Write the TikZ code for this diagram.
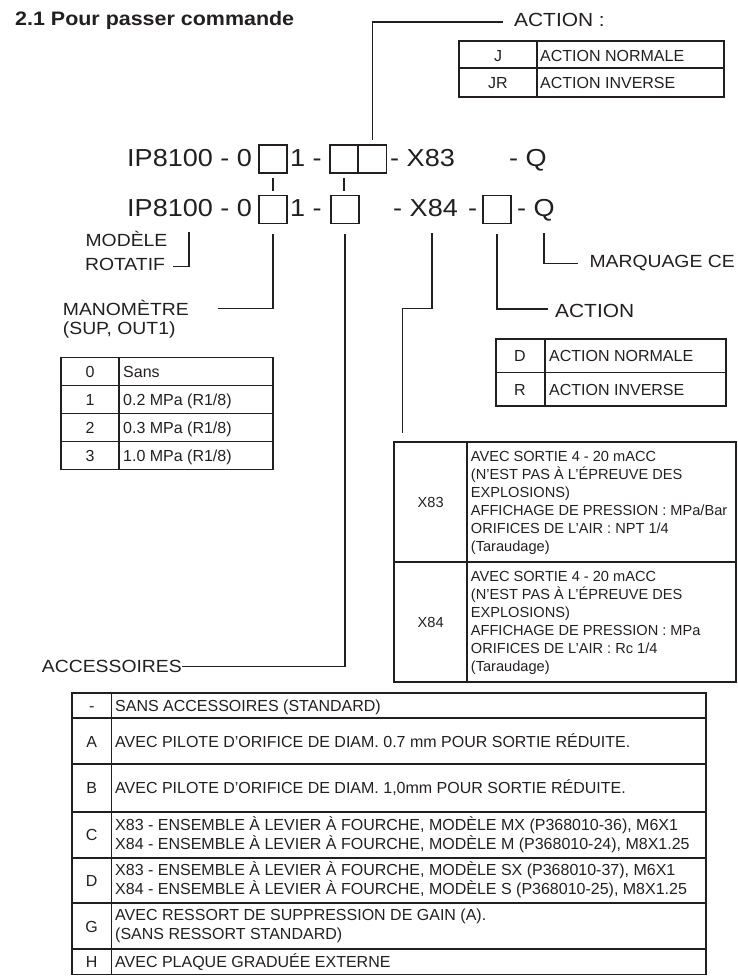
\documentclass[tikz,border=0pt]{standalone}
\usepackage{fontspec}
\setmainfont{Liberation Sans}
\newfontfamily\widefont[FakeStretch=1.1]{Liberation Sans}
\definecolor{ink}{RGB}{35,31,32}

\newcommand\codefont{\widefont\fontsize{24.6}{29}\selectfont}
\newcommand\lblfont{\widefont\fontsize{17.6}{21}\selectfont}
\newcommand\biglblfont{\widefont\fontsize{19}{23}\selectfont}
\newcommand\cellfont{\fontsize{16}{19}\selectfont}
\newcommand\notefont{\fontsize{14.6}{18}\selectfont}

\tikzset{
  code/.style={font=\codefont, inner sep=0pt, anchor=base west},
  lbl/.style={font=\lblfont, inner sep=0pt, anchor=base west},
  cell/.style={font=\cellfont, inner sep=0pt, anchor=base west},
  key/.style={font=\cellfont, inner sep=0pt, anchor=base},
  note/.style={font=\notefont, inner sep=0pt, anchor=base west},
  slot/.style={draw, line width=1.8pt, minimum width=28pt, minimum height=28pt, inner sep=0pt},
  lead/.style={line width=1.3pt},
  grid/.style={line width=1.8pt},
}

\begin{document}
\begin{tikzpicture}[x=1pt, y=-1pt, color=ink]
  \useasboundingbox (0,0) rectangle (738,976);

  \node[font=\widefont\bfseries\fontsize{19.5}{23}\selectfont, inner sep=0pt, anchor=base west] (title) at (15,26) {2.1 Pour passer commande};

  % code lines
  \node[code] (l1a) at (127,167) {IP8100 - 0};
  \node[slot] (s11) at (273,159) {};
  \node[code] (l1b) at (290,167) {1 -};
  \node[slot] (s12) at (344,159) {};
  \node[slot] (s13) at (372.5,159) {};
  \node[code] (l1c) at (390,167) {- X83};
  \node[code] (l1d) at (509,167) {- Q};

  \node[code] (l2a) at (127,217) {IP8100 - 0};
  \node[slot] (s21) at (273,209.5) {};
  \node[code] (l2b) at (290,217) {1 -};
  \node[slot] (s22) at (345,209.5) {};
  \node[code] (l2c) at (393,217) {- X84};
  \node[code] (l2d) at (468,217) {-};
  \node[slot] (s24) at (497,209.5) {};
  \node[code] (l2e) at (517,217) {- Q};

  \draw[lead, shorten <=4pt, shorten >=4pt] (s11) -- (s21);
  \draw[lead, shorten <=4pt, shorten >=4pt] (s12.south) -- (s12.south |- s22.north);

  % action J / JR
  \node[lbl, font=\biglblfont] (actT) at (514,27) {ACTION :};
  \coordinate (actT-end) at (503,22);
  \draw[lead] ([yshift=4pt]s13.north) |- (actT-end);
  \draw[grid] (459,41) rectangle (724,97);
  \draw[grid] (459,68) -- (724,68) (537,41) -- (537,97);
  \node[key] (j1) at (498,61.5) {J};
  \node[cell] (j1t) at (540,61.5) {ACTION NORMALE};
  \node[key] (j2) at (498,88.5) {JR};
  \node[cell] (j2t) at (540,88.5) {ACTION INVERSE};

  % modele rotatif
  \node[lbl, anchor=base] (mod1) at (126.5,246.7) {MODÈLE};
  \node[lbl, anchor=base] (mod2) at (125,270) {ROTATIF};
  \coordinate (mod-top) at (189,232);
  \coordinate (mod-end) at (173,266.7);
  \draw[lead] (mod-top) |- (mod-end);

  % manometre
  \node[lbl] (mano1) at (62.7,315) {MANOMÈTRE};
  \node[lbl] (mano2) at (62.7,334.5) {(SUP, OUT1)};
  \coordinate (mano-end) at (218,308.3);
  \draw[lead] ([yshift=-10pt]s21.south) |- (mano-end);
  \draw[grid] (60.7,357.5) rectangle (272.7,469.5);
  \draw[grid] (119,357.5) -- (119,469.5);
  \foreach \y in {385.5,413.5,441.5} \draw[grid] (60.7,\y) -- (272.7,\y);
  \foreach \k/\t [count=\i from 0] in {0/{Sans},1/{0.2 MPa (R1/8)},2/{0.3 MPa (R1/8)},3/{1.0 MPa (R1/8)}} {
    \node[key] (m\i) at (90,377.2+\i*28) {\k};
    \node[cell] (m\i t) at (123,377.2+\i*28) {\t};
  }

  % marquage CE
  \node[lbl] (ce) at (589.3,267.3) {MARQUAGE CE};
  \coordinate (ce-top) at (544,233);
  \coordinate (ce-end) at (578.3,263.3);
  \draw[lead] (ce-top) |- (ce-end);

  % action D / R
  \node[lbl, font=\biglblfont] (act2) at (555,317.3) {ACTION};
  \coordinate (act2-end) at (548.3,309);
  \draw[lead] ([yshift=-10pt]s24.south) |- (act2-end);
  \draw[grid] (495.7,339.3) rectangle (725.7,406);
  \draw[grid] (495.7,372.5) -- (725.7,372.5) (545,339.3) -- (545,406);
  \node[key] (d1) at (520,361.6) {D};
  \node[cell] (d1t) at (549,361.6) {ACTION NORMALE};
  \node[key] (d2) at (520,395) {R};
  \node[cell] (d2t) at (549,395) {ACTION INVERSE};

  % X83 / X84
  \coordinate (x84-top) at (432,233);
  \coordinate (x84-bend) at (402.7,308.3);
  \coordinate (x84-end) at (402.7,432.7);
  \draw[lead] (x84-top) |- (x84-bend) -- (x84-end);
  \draw[grid] (394,441.7) rectangle (736,681.7);
  \draw[grid] (394,561.7) -- (736,561.7) (467.3,441.7) -- (467.3,681.7);
  \node[note, anchor=base] (x83) at (430.7,507) {X83};
  \node[note, anchor=base] (x84) at (430.7,627) {X84};
  \foreach \t [count=\i from 0] in {{AVEC SORTIE 4 - 20 mACC},{(N’EST PAS À L’ÉPREUVE DES},{EXPLOSIONS)},{AFFICHAGE DE PRESSION : MPa/Bar},{ORIFICES DE L’AIR : NPT 1/4},{(Taraudage)}}
    \node[note] (x83l\i) at (470.7,461+\i*18.1) {\t};
  \foreach \t [count=\i from 0] in {{AVEC SORTIE 4 - 20 mACC},{(N’EST PAS À L’ÉPREUVE DES},{EXPLOSIONS)},{AFFICHAGE DE PRESSION : MPa},{ORIFICES DE L’AIR : Rc 1/4},{(Taraudage)}}
    \node[note] (x84l\i) at (470.7,581+\i*18.1) {\t};

  % accessoires
  \node[lbl, anchor=base east] (acc) at (182,672) {ACCESSOIRES};
  \coordinate (acc-end) at (182,666.7);
  \draw[lead] ([yshift=-10pt]s22.south) |- (acc-end);
  \draw[grid] (72,692.7) rectangle (706,974.5);
  \draw[grid] (111.5,692.7) -- (111.5,974.5);
  \foreach \y in {718.3,764.3,811.7,857.7,903.3,949.3} \draw[grid] (72,\y) -- (706,\y);
  \node[key] (a0) at (91.7,711.2) {-};
  \node[cell] (a0t) at (115,711.2) {SANS ACCESSOIRES (STANDARD)};
  \node[key] (a1) at (91.7,747) {A};
  \node[cell] (a1t) at (115,747) {AVEC PILOTE D’ORIFICE DE DIAM. 0.7 mm POUR SORTIE RÉDUITE.};
  \node[key] (a2) at (91.7,793.7) {B};
  \node[cell] (a2t) at (115,793.7) {AVEC PILOTE D’ORIFICE DE DIAM. 1,0mm POUR SORTIE RÉDUITE.};
  \node[key] (a3) at (91.7,840.4) {C};
  \node[cell] (a3t) at (115,830.7) {X83 - ENSEMBLE À LEVIER À FOURCHE, MODÈLE MX (P368010-36), M6X1};
  \node[cell] (a3u) at (115,849) {X84 - ENSEMBLE À LEVIER À FOURCHE, MODÈLE M (P368010-24), M8X1.25};
  \node[key] (a4) at (91.7,886.2) {D};
  \node[cell] (a4t) at (115,875) {X83 - ENSEMBLE À LEVIER À FOURCHE, MODÈLE SX (P368010-37), M6X1};
  \node[cell] (a4u) at (115,894) {X84 - ENSEMBLE À LEVIER À FOURCHE, MODÈLE S (P368010-25), M8X1.25};
  \node[key] (a5) at (91.7,932) {G};
  \node[cell] (a5t) at (115,920.7) {AVEC RESSORT DE SUPPRESSION DE GAIN (A).};
  \node[cell] (a5u) at (115,939.7) {(SANS RESSORT STANDARD)};
  \node[key] (a6) at (91.7,967.4) {H};
  \node[cell] (a6t) at (115,967.4) {AVEC PLAQUE GRADUÉE EXTERNE};
\end{tikzpicture}
\end{document}
